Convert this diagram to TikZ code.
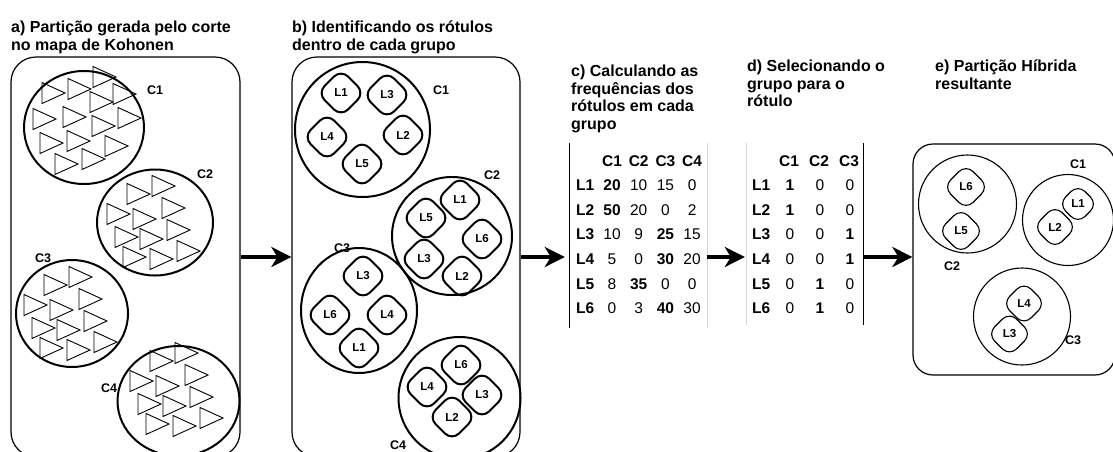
\documentclass[tikz,border=0pt]{standalone}
\usepackage{fontspec}
\setmainfont{Liberation Sans}
\usepackage{tikz}
\usetikzlibrary{arrows.meta,shapes.geometric}
\definecolor{ink}{RGB}{0,0,0}
\definecolor{faint}{RGB}{215,215,215}

\begin{document}
\begin{tikzpicture}[x=1pt, y=-1pt,
  panel/.style={draw=ink, rounded corners=25pt, line width=1.2pt, inner sep=0pt},
  grp/.style={ellipse, draw=ink, line width=2pt, inner sep=0pt},
  lab/.style={inner sep=0pt, font=\fontsize{11.5}{12}\selectfont\bfseries},
  labedge/.style={draw=ink, rounded corners=10pt, line width=2pt},
  glab/.style={inner sep=0pt, font=\fontsize{12.5}{14}\selectfont\bfseries},
  title/.style={anchor=north west, align=left, inner sep=0pt, font=\fontsize{16}{17.5}\selectfont\bfseries},
  cell/.style={anchor=base, inner sep=0pt, font=\fontsize{15.5}{18}\selectfont},
  flow/.style={-{Stealth[length=20pt, width=20pt, inset=6pt]}, line width=4pt},
  tri/.style={draw=ink, line width=0.9pt, line join=miter}]
  \useasboundingbox (0,0) rectangle (1113,451);

  % Titles
  \node[title] (ta) at (11,21) {a) Partição gerada pelo corte\\no mapa de Kohonen};
  \node[title] (tb) at (292,21) {b) Identificando os rótulos\\dentro de cada grupo};
  \node[title] (tcc) at (571,65) {c) Calculando as\\frequências dos\\rótulos em cada\\grupo};
  \node[title] (tdd) at (747,60) {d) Selecionando o\\grupo para o\\rótulo};
  \node[title] (tee) at (935,60) {e) Partição Híbrida\\resultante};

  % Panels
  \node[panel, minimum width=229pt, minimum height=400pt] (pa) at (125.5,257) {};
  \node[panel, minimum width=228pt, minimum height=400pt] (pb) at (406,257) {};
  \node[panel, rounded corners=20pt, minimum width=202pt, minimum height=231pt] (pe) at (1014,259.5) {};

  % a) groups of the map
  \node[grp, minimum width=120pt, minimum height=113pt] (a1) at (84,127.5) {};
  \node[grp, minimum width=116pt, minimum height=106pt] (a2) at (155,222.5) {};
  \node[grp, minimum width=112pt, minimum height=107pt] (a3) at (72,313.5) {};
  \node[grp, minimum width=122pt, minimum height=110pt] (a4) at (178.5,401) {};
  \node[glab] (la1) at (155,90) {C1};
  \node[glab] (la2) at (205,174) {C2};
  \node[glab] (la3) at (43,258) {C3};
  \node[glab] (la4) at (109,388) {C4};
  \foreach \x/\y in {42/93,68/89,93/77,113/94,90/102,33/119,63/117,92/126,118/118,40/143,67/141,105/146,55/164,82/159}
    \draw[tri] (\x,\y-10.5) -- ++(23,10.5) -- ++(-23,10.5) -- cycle;
  \foreach \cx/\cy in {155/222,72/313,178/389}
    \foreach \x/\y in {-28/-28,-3/-36,-48/-8,-22/-3,7/-14,-40/15,-15/17,12/8,-32/35,-5/37,22/29}
      \draw[tri] (\cx+\x,\cy+\y-10.5) -- ++(23,10.5) -- ++(-23,10.5) -- cycle;

  % b) labels inside each group
  \node[grp, minimum width=135pt, minimum height=135pt] (b1) at (362.5,129.5) {};
  \node[grp, minimum width=120pt, minimum height=118pt] (b2) at (452,236) {};
  \node[grp, minimum width=116pt, minimum height=125pt] (b3) at (359,310.5) {};
  \node[grp, minimum width=122pt, minimum height=122pt] (b4) at (459.5,398) {};
  \node[glab] (lb1) at (441,90) {C1};
  \node[glab] (lb2) at (492,175) {C2};
  \node[glab] (lb3) at (342,248) {C3};
  \node[glab] (lb4) at (398,445) {C4};
  \foreach \g/\l/\x/\y in {1/1/341/93,1/3/387/95,1/4/327/137,1/2/403/135,1/5/362/164,
      2/1/460/200,2/5/426/218,2/6/482/239,2/3/424/259,2/2/462/276,
      3/3/363/276,3/6/330/315,3/4/387/315,3/1/359/348,
      4/6/461/365,4/4/427/387,4/3/482/395,4/2/452/417} {
    \node[lab] (b\g-\l) at (\x,\y) {L\l};
    \draw[labedge] (\x,\y-23.5) -- ++(23.5,23.5) -- ++(-23.5,23.5) -- ++(-23.5,-23.5) -- cycle;
  }

  % c) frequency table
  \node[minimum width=137pt, minimum height=185pt, inner sep=0pt] (tc) at (638.5,235.5) {};
  \draw[ink, line width=1pt] (tc.north west) -- (tc.south west);
  \draw[faint, line width=1pt] (tc.north east) -- (tc.south east);
  \foreach \j in {1,...,4}
    \node[cell] (c-0-\j) at (612+26.7*\j-26.7,166.5) {\bfseries C\j};
  \foreach \row [count=\i] in {{\textbf{20},10,15,0},{\textbf{50},20,0,2},{10,9,\textbf{25},15},
      {5,0,\textbf{30},20},{8,\textbf{35},0,0},{0,3,\textbf{40},30}} {
    \node[cell, anchor=base west] (c-\i-0) at (576,166+24.6*\i) {\bfseries L\i};
    \foreach \v [count=\j] in \row
      \node[cell] (c-\i-\j) at (612+26.7*\j-26.7,166+24.6*\i) {\v};
  }

  % d) selected group
  \node[minimum width=116pt, minimum height=182pt, inner sep=0pt] (td) at (805,234) {};
  \draw[faint, line width=1pt] (td.north west) -- (td.south west);
  \draw[ink, line width=1pt] (td.north east) -- (td.south east);
  \foreach \j in {1,...,3}
    \node[cell] (d-0-\j) at (789+30*\j-30,166.5) {\bfseries C\j};
  \foreach \row [count=\i] in {{\textbf{1},0,0},{\textbf{1},0,0},{0,0,\textbf{1}},
      {0,0,\textbf{1}},{0,\textbf{1},0},{0,\textbf{1},0}} {
    \node[cell, anchor=base west] (d-\i-0) at (752,166+24.6*\i) {\bfseries L\i};
    \foreach \v [count=\j] in \row
      \node[cell] (d-\i-\j) at (790+30*\j-30,166+24.6*\i) {\v};
  }

  % e) hybrid partition
  \begin{scope}[grp/.append style={line width=1.1pt}, labedge/.append style={line width=1.1pt}]
    \node[grp, minimum size=98pt] (e2) at (967.5,204) {};
    \node[grp, minimum size=91pt] (e1) at (1068,220) {};
    \node[grp, minimum size=97pt] (e3) at (1022,316.5) {};
    \foreach \g/\l/\x/\y/\h in {2/6/966/187/22.5,2/5/961/231/22.5,1/1/1078/204/19.5,
        1/2/1055/227/21.5,3/4/1024/303.5/21.5,3/3/1009.5/334/22} {
      \node[lab] (e\g-\l) at (\x,\y) {L\l};
      \draw[labedge] (\x,\y-\h) -- ++(\h,\h) -- ++(-\h,\h) -- ++(-\h,-\h) -- cycle;
    }
  \end{scope}
  \node[glab] (le1) at (1078,164) {C1};
  \node[glab] (le2) at (952,266) {C2};
  \node[glab] (le3) at (1073,340) {C3};

  % Flow arrows
  \draw[flow] (pa.east) -- (pb.west);
  \draw[flow, shorten >=5pt] (pb.east) -- (tc.west |- pb.east);
  \draw[flow, shorten >=2pt] (tc.east |- pa.east) -- (td.west |- pa.east);
  \draw[flow] (td.east |- pa.east) -- (pe.west |- pa.east);
\end{tikzpicture}
\end{document}
